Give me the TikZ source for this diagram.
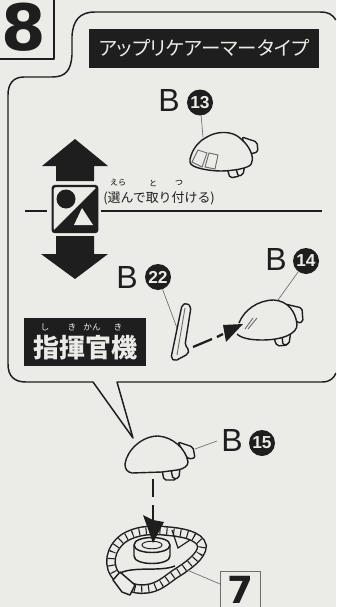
\documentclass[tikz,border=0pt]{standalone}
\usepackage{fontspec}
\setmainfont{Liberation Sans}
\newfontfamily\cjk{Noto Sans CJK JP}
\newfontfamily\cjkp[RawFeature=+palt]{Noto Sans CJK JP}
\newfontfamily\widefont{DejaVu Sans}
\definecolor{paper}{HTML}{EBEBE7}
\definecolor{ink}{HTML}{1E1E1E}
\definecolor{thin}{HTML}{6E6E6E}
\tikzset{
  x=0.75pt,y=-0.75pt,
  outline/.style={draw=ink,line width=1.1pt,line join=round},
  part/.style={draw=ink,line width=1.05pt,fill=paper,line join=round,rounded corners=1.5pt},
  leader/.style={draw=thin,line width=0.5pt},
  bigarrow/.style={fill=ink,draw=none},
  banner/.style={fill=ink,inner sep=0pt,anchor=north west},
  letterB/.style={font=\fontsize{24}{24}\selectfont,text=ink,inner sep=0pt},
  partno/.style={circle,fill=ink,text=paper,inner sep=0pt,minimum size=19.5pt,font=\bfseries\fontsize{13}{13}\selectfont},
  dashline/.style={draw=ink,line width=1.7pt},
  ruby/.style={font=\cjk\fontsize{6}{6}\selectfont,inner sep=0pt},
  wruby/.style={font=\cjk\fontsize{6.5}{6.5}\selectfont,text=paper,inner sep=0pt},
}
\begin{document}
\begin{tikzpicture}
\useasboundingbox (0,0) rectangle (336,607);
\clip (0,0) rectangle (336,607);
\fill[paper] (0,0) rectangle (336,607);

% step number
\draw[outline] (0,59) -- (54,59) -- (54,0);
\node[inner sep=0pt,font=\widefont\bfseries\fontsize{48}{48}\selectfont,text=ink] (stepnum) at (23.5,27.5) {8};

% speech balloon
\draw[outline] (336,20) .. controls (332,14) and (328,12) .. (320,12)
  -- (95,12) .. controls (80,12) and (73,20) .. (72,36)
  -- (72,55) .. controls (71,70) and (66,77) .. (52,77)
  -- (24,77) .. controls (13,77) and (8,84) .. (8,95)
  -- (8,364) .. controls (8,376) and (14,382) .. (26,382)
  -- (93,382) -- (133,438) -- (117,382)
  -- (322,382) .. controls (330,382) and (334,378) .. (336,373);

% title banner
\node[banner,minimum width=172pt,minimum height=29pt] (title) at (89,29) {};
\node[inner sep=0pt,text=paper,font=\cjkp\fontsize{14.6}{15}\selectfont] (titletext) at (title.center) {アップリケアーマータイプ};

% part label 13
\node[letterB] (b13) at (169,100) {B};
\node[partno] (n13) at (200,102.5) {13};
\coordinate (s13) at (203,137);
\draw[leader] (n13) -- (s13);
\draw[part] (242,137) -- (257,142) -- (258,152) -- (250,154) -- (245,146) -- cycle;
\draw[part] (227,168) -- (230,178) -- (240,176) -- (242,165) -- cycle;
\draw[part] (236,168) -- (238,176) -- (243,175) -- (245,164) -- cycle;
\draw[part] (190,160) .. controls (192,150) and (198,142) .. (207,137)
  .. controls (218,131) and (232,131) .. (241,139)
  .. controls (249,146) and (253,155) .. (252,162)
  .. controls (250,167) and (240,170) .. (223,171)
  .. controls (210,171) and (190,168) .. (190,160) -- cycle;
\draw[draw=thin,line width=0.7pt] (198,150) -- (207,153) -- (202,167) -- (192,162) -- cycle
  (209,153) -- (218,155) -- (215,169) -- (205,167) -- cycle;

% up and down arrows
\fill[bigarrow] (75,139) -- (108,166) -- (94,166) -- (94,181) -- (56,181) -- (56,166) -- (42,166) -- cycle;
\fill[bigarrow] (75,279) -- (108,254) -- (94,254) -- (94,236) -- (56,236) -- (56,254) -- (41,254) -- cycle;

% divider line
\coordinate (d1) at (25,211);
\coordinate (d2) at (322,211);
\node[draw=ink,line width=1.1pt,fill=paper,rounded corners=2pt,minimum width=33pt,minimum height=34pt,inner sep=0pt] (icon) at (75,209) {};
\draw[outline] (d1) -- (47,211);
\draw[outline] (101,211) -- (d2);
\fill[ink] (97,187) -- (97,232) -- (52,232) -- cycle;
\fill[ink] (66,199) circle[radius=9.5];
\fill[paper] (82,208) -- (93,225) -- (74,225) -- cycle;
\draw[draw=ink,line width=1.1pt,rounded corners=2pt] (icon.north west) rectangle (icon.south east);

% choice note
\node[inner sep=0pt,anchor=west,text=ink,font=\cjk\fontsize{9.7}{10}\selectfont] (note) at (103,198) {(選んで取り付ける)};
\node[ruby] (r1) at (118,183) {えら};
\node[ruby] (r2) at (153,183) {と};
\node[ruby] (r3) at (179,183) {つ};

% part label 22
\node[letterB] (b22) at (127,277) {B};
\node[partno] (n22) at (158,277) {22};
\coordinate (s22) at (177,328);
\draw[leader] (n22) -- (s22);
\draw[part] (182,305) -- (187,303) -- (191,307) -- (185,345) -- (189,350) -- (188,354) -- (175,361) -- (171,358) -- cycle;
\draw[draw=thin,line width=0.7pt] (185,308) -- (177,355);

% part label 14
\node[letterB] (b14) at (276,259) {B};
\node[partno] (n14) at (306,261) {14};
\coordinate (s14) at (278,300);
\draw[leader] (n14) -- (s14);
\draw[part] (285,304) -- (302,308) -- (303,322) -- (297,323) -- (292,312) -- cycle;
\draw[part] (273,336) -- (277,346) -- (288,345) -- (290,332) -- cycle;
\draw[part] (282,336) -- (283,345) -- (289,344) -- (291,330) -- cycle;
\draw[draw=ink,line width=1.05pt,fill=paper] (239,323) .. controls (244,310) and (258,300) .. (274,300)
  .. controls (288,301) and (296,312) .. (297,325)
  .. controls (297,333) and (284,340) .. (262,340)
  .. controls (250,340) and (241,338) .. (237,334);
\draw[draw=thin,line width=0.7pt] (253,318) -- (245,329) (257,318) -- (248,329);

% dashed arrow 22 to 14
\coordinate (a1) at (193,347);
\coordinate (a2) at (212,339);
\coordinate (a3) at (217,337);
\coordinate (a4) at (223,334);
\draw[dashline] (a1) -- (a2) (a3) -- (a4);
\fill[ink] (243,324) -- (223,325) -- (226,342) -- cycle;

% commander banner
\node[banner,minimum width=91.5pt,minimum height=36pt] (cmd) at (24,318) {};
\node[inner sep=0pt,text=paper,font=\cjk\bfseries\fontsize{19.5}{20}\selectfont] (cmdtext) at (85,348) {指揮官機};
\node[wruby] (c1) at (45,327) {し};
\node[wruby] (c2) at (72,327) {き};
\node[wruby] (c3) at (92,327) {かん};
\node[wruby] (c4) at (118,327) {き};

% part label 15
\node[letterB] (b15) at (232,440) {B};
\node[partno] (n15) at (262,443) {15};
\coordinate (s15) at (195,449);
\coordinate (l15) at (217,441);
\draw[leader] (l15) -- (s15);
\draw[part] (178,442) -- (193,447) -- (195,458) -- (188,459) -- (182,450) -- cycle;
\draw[part] (162,470) -- (164,480) -- (176,480) -- (178,468) -- cycle;
\draw[part] (171,470) -- (173,479) -- (179,478) -- (180,467) -- cycle;
\draw[draw=ink,line width=1.05pt,fill=paper] (125,464) .. controls (127,450) and (142,436) .. (158,436)
  .. controls (173,437) and (186,449) .. (188,462)
  .. controls (188,466) and (184,469) .. (177,470)
  -- (162,472) -- (132,473) .. controls (127,472) and (125,469) .. (125,464) -- cycle;

% part 7 ring
\def\ringpath{(118,578) .. controls (106,566) and (110,548) .. (124,538)
  .. controls (135,531) and (150,529) .. (166,531)
  .. controls (180,532) and (200,535) .. (202,546)
  .. controls (202,556) and (188,566) .. (175,574)
  .. controls (165,581) and (158,588) .. (145,589)
  .. controls (132,590) and (126,585) .. (118,578)}
\draw[ink,line width=7.4pt] \ringpath;
\draw[paper,line width=5.2pt] \ringpath;
\draw[ink,line width=5.2pt,dash pattern=on 0.8pt off 4.4pt] \ringpath;
\draw[draw=ink,line width=1.1pt,fill=paper,line join=round] (113,580) -- (120,572) -- (135,585) -- (130,595) -- (122,592) -- cycle;
\draw[ink,line width=1.1pt] (120,573) .. controls (135,566) and (160,572) .. (175,566);
\draw[ink,line width=0.9pt] (172,530) -- (178,548) -- (190,540);
% cylinder
\draw[draw=ink,line width=1.1pt,fill=paper] (134,545) -- (134,556) .. controls (134,566) and (170,566) .. (170,556) -- (170,545)
  .. controls (170,535) and (134,535) .. (134,545) -- cycle;
\draw[ink,line width=1.1pt] (134,545) .. controls (134,555) and (170,555) .. (170,545);
\draw[ink,line width=0.7pt] (142,545) .. controls (142,540) and (162,540) .. (162,545) .. controls (162,550) and (142,550) .. (142,545) -- cycle;

% dashed arrow 15 to 7
\coordinate (v1) at (153,479);
\coordinate (v2) at (153,497);
\coordinate (v3) at (153,505);
\coordinate (v4) at (153,522);
\draw[dashline] (v1) -- (v2) (v3) -- (v4);
\fill[ink] (153,543) -- (143,515) -- (153,520) -- (164,522) -- cycle;

% reference to step 7
\node[draw=thin,line width=0.8pt,minimum width=30pt,minimum height=30pt,inner sep=0pt,anchor=north west] (box7) at (220,571) {};
\node[inner sep=0pt,font=\widefont\bfseries\fontsize{28}{28}\selectfont,text=ink] (seven) at (240,590) {7};
\coordinate (s7) at (187,570);
\coordinate (e7) at (220,584);
\draw[leader] (s7) -- (e7);
\end{tikzpicture}
\end{document}
